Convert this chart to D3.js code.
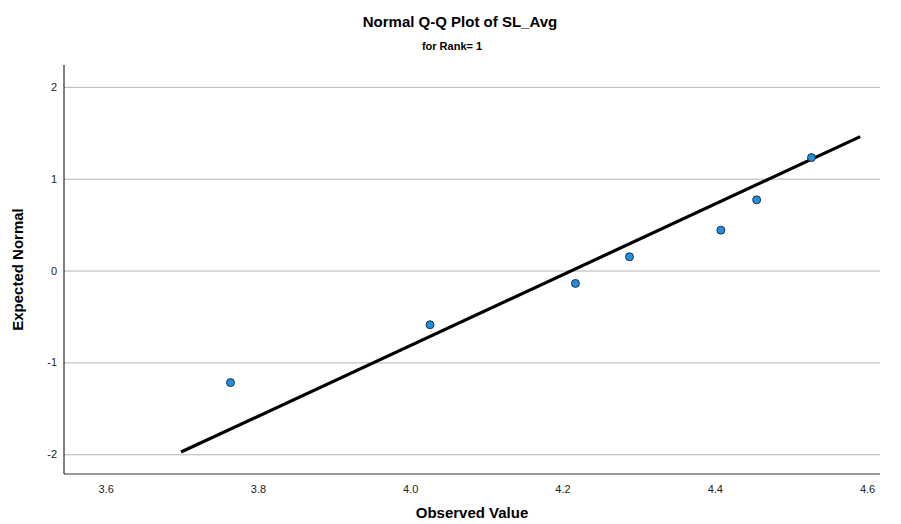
<!DOCTYPE html>
<html>
<head>
<meta charset="utf-8">
<script src="https://cdn.jsdelivr.net/npm/d3@7"></script>
<style>
  body { margin: 0; background: #fff; }
  text { font-family: "Liberation Sans", Arial, sans-serif; }
</style>
</head>
<body>
<script>
let w = 901;
let h = 524;

// observed values vs expected normal values
var observed = [3.764, 4.026, 4.217, 4.288, 4.408, 4.455, 4.527];
var expected = [-1.22, -0.59, -0.14, 0.15, 0.44, 0.77, 1.23];

// reference line end points
var lineX = [3.699, 4.591];
var lineY = [-1.976, 1.458];

var xTicks = [3.6, 3.8, 4.0, 4.2, 4.4, 4.6];
var yTicks = [-2, -1, 0, 1, 2];

var padL = 64, padR = 880, padT = 65, padB = 474;

var x = d3.scaleLinear().domain([3.5453, 4.617]).range([padL, padR]);
var y = d3.scaleLinear().domain([-2.215, 2.238]).range([padB, padT]);

var svg = d3.select("body").append("svg")
    .attr("width", w)
    .attr("height", h);

// gridlines
svg.append("g")
    .attr("transform", `translate(${padL},0)`)
    .call(d3.axisLeft(y).tickValues(yTicks).tickSize(-(padR - padL)).tickFormat(""))
    .call(g => g.select(".domain").remove())
    .call(g => g.selectAll("line").attr("stroke", "#b4b4b4"));

// y axis - plain hyphen for negatives like the original
svg.append("g")
    .attr("transform", `translate(${padL},0)`)
    .call(d3.axisLeft(y).tickValues(yTicks).tickSize(0).tickPadding(7).tickFormat(d => String(d)))
    .call(g => g.select(".domain").remove())
    .call(g => g.selectAll("text").attr("font-size", 11).attr("fill", "#222")
        .style("font-family", "Liberation Sans, Arial, sans-serif"));

// x axis
svg.append("g")
    .attr("transform", `translate(0,${padB})`)
    .call(d3.axisBottom(x).tickValues(xTicks).tickSize(0).tickPadding(11).tickFormat(d3.format(".1f")))
    .call(g => g.select(".domain").remove())
    .call(g => g.selectAll("text").attr("font-size", 11).attr("fill", "#222")
        .style("font-family", "Liberation Sans, Arial, sans-serif"));

svg.append("line")
    .attr("x1", padL).attr("x2", padR).attr("y1", padB).attr("y2", padB)
    .attr("stroke", "#777").attr("stroke-width", 1.5);
svg.append("line")
    .attr("x1", padL).attr("x2", padL).attr("y1", padT).attr("y2", padB)
    .attr("stroke", "#000").attr("stroke-width", 1);

// reference line
svg.append("line")
    .attr("x1", x(lineX[0])).attr("y1", y(lineY[0]))
    .attr("x2", x(lineX[1])).attr("y2", y(lineY[1]))
    .attr("stroke", "#000").attr("stroke-width", 3.2);

// points
svg.selectAll("circle.pt").data(observed).enter().append("circle")
    .attr("class", "pt")
    .attr("cx", d => x(d))
    .attr("cy", (d, i) => y(expected[i]))
    .attr("r", 4)
    .attr("fill", "#1e8fe1")
    .attr("stroke", "#111")
    .attr("stroke-width", 0.8);

// titles
svg.append("text")
    .attr("x", 460).attr("y", 27)
    .attr("text-anchor", "middle")
    .attr("font-size", 15).attr("font-weight", "bold")
    .text("Normal Q-Q Plot of SL_Avg");

svg.append("text")
    .attr("x", 452).attr("y", 50)
    .attr("text-anchor", "middle")
    .attr("font-size", 11).attr("font-weight", "bold")
    .text("for Rank= 1");

svg.append("text")
    .attr("x", (padL + padR) / 2).attr("y", 518)
    .attr("text-anchor", "middle")
    .attr("font-size", 15).attr("font-weight", "bold")
    .text("Observed Value");

svg.append("text")
    .attr("transform", `translate(23,${(padT + padB) / 2}) rotate(-90)`)
    .attr("text-anchor", "middle")
    .attr("font-size", 15).attr("font-weight", "bold")
    .text("Expected Normal");
</script>
</body>
</html>
